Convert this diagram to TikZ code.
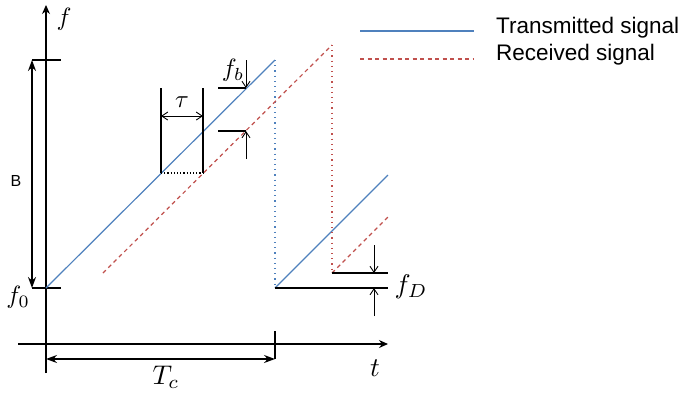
\documentclass[tikz,border=0pt]{standalone}
\usepackage{fontspec}
\usepackage{tikz}
\usetikzlibrary{arrows.meta,positioning}
\newfontfamily\legendfont{Liberation Sans}
\definecolor{txblue}{HTML}{4F81BD}
\definecolor{rxred}{HTML}{C0504D}
\tikzset{
  axis/.style={line width=1.3pt,-{Stealth[length=9pt,width=8pt]}},
  rule/.style={line width=1.3pt},
  dimfill/.style={line width=1.3pt,{Stealth[length=11pt,width=8pt]}-{Stealth[length=11pt,width=8pt]}},
  dimopen/.style={line width=0.9pt,-{Straight Barb[length=6pt,width=8pt]}},
  dimopenboth/.style={line width=0.9pt,{Straight Barb[length=6pt,width=8pt]}-{Straight Barb[length=6pt,width=8pt]}},
  sigtx/.style={draw=txblue,line width=1.2pt},
  sigrx/.style={draw=rxred,line width=1.2pt,dash pattern=on 4pt off 3.5pt},
  guidetx/.style={draw=txblue,line width=1.2pt,dash pattern=on 1.2pt off 4pt},
  guiderx/.style={draw=rxred,line width=1.2pt,dash pattern=on 1.2pt off 4pt},
  mathlbl/.style={font=\normalsize,scale=2.5,inner sep=0pt},
  mathbig/.style={font=\normalsize,scale=2.7,inner sep=0pt},
  legendlbl/.style={font=\legendfont\fontsize{22.5}{26}\selectfont,inner sep=0pt,anchor=west}
}
\begin{document}
\begin{tikzpicture}[x=1pt,y=-1pt]
\useasboundingbox (0,0) rectangle (680,392);
% axes
\coordinate (fbot) at (46,373);
\coordinate (ftop) at (46,5);
\coordinate (tleft) at (18,344);
\coordinate (tright) at (388,344);
\draw[axis] (fbot) -- (ftop);
\draw[axis] (tleft) -- (tright);
\node[mathlbl] (flbl) at (64,19) {$f$};
\node[mathbig] (tlbl) at (375,368) {$t$};
% bandwidth
\coordinate (bw1) at (32,60);
\coordinate (bw2) at (61,60);
\coordinate (bz1) at (32,288);
\coordinate (bz2) at (61,288);
\draw[rule] (bw1) -- (bw2);
\draw[rule] (bz1) -- (bz2);
\draw[dimfill] (bz1) -- (bw1);
\node[font=\legendfont\fontsize{16}{18}\selectfont,inner sep=0pt] (blbl) at (16,181) {B};
\node[mathlbl] (f0lbl) at (18,297) {$f_0$};
% chirps
\coordinate (tx1a) at (46,288);
\coordinate (tx1b) at (275,60);
\coordinate (tx2a) at (275,288);
\coordinate (tx2b) at (388,175);
\coordinate (rx1a) at (103,273);
\coordinate (rx1b) at (332,45);
\coordinate (rx2a) at (332,273);
\coordinate (rx2b) at (388,217);
\draw[sigtx] (tx1a) -- (tx1b);
\draw[guidetx] (tx1b) -- (tx2a);
\draw[sigtx] (tx2a) -- (tx2b);
\draw[sigrx] (rx1a) -- (rx1b);
\draw[guiderx] (rx1b) -- (rx2a);
\draw[sigrx] (rx2a) -- (rx2b);
% doppler shift
\coordinate (dend1) at (388,288);
\coordinate (dend2) at (388,273);
\coordinate (dtop) at (374,245);
\coordinate (dtopend) at (374,273);
\coordinate (dbot) at (374,316);
\coordinate (dbotend) at (374,288);
\draw[rule] (tx2a) -- (dend1);
\draw[rule] (rx2a) -- (dend2);
\draw[dimopen] (dtop) -- (dtopend);
\draw[dimopen] (dbot) -- (dbotend);
\node[mathbig] (fdlbl) at (411,287) {$f_D$};
% delay
\coordinate (tau1a) at (161,88);
\coordinate (tau1b) at (161,173);
\coordinate (tau2a) at (203,88);
\coordinate (tau2b) at (203,173);
\coordinate (taul) at (161,116);
\coordinate (taur) at (203,116);
\draw[rule] (tau1a) -- (tau1b);
\draw[rule] (tau2a) -- (tau2b);
\draw[line width=1.2pt,dash pattern=on 1.2pt off 2pt] (tau1b) -- (tau2b);
\draw[dimopenboth] (taul) -- (taur);
\node[mathlbl] (taulbl) at (182,102) {$\tau$};
% beat frequency
\coordinate (fb1) at (218,88);
\coordinate (fb2) at (246,88);
\coordinate (fb3) at (218,131);
\coordinate (fb4) at (246,131);
\coordinate (fbtop) at (246,60);
\coordinate (fbbot) at (246,159);
\draw[rule] (fb1) -- (fb2);
\draw[rule] (fb3) -- (fb4);
\draw[dimopen] (fbtop) -- (fb2);
\draw[dimopen] (fbbot) -- (fb4);
\node[mathlbl] (fblbl) at (233,70) {$f_b$};
% chirp period
\coordinate (tc1) at (46,359);
\coordinate (tc2) at (275,359);
\coordinate (tctick) at (275,331);
\draw[rule] (tctick) -- (tc2);
\draw[dimfill] (tc1) -- (tc2);
\node[mathbig] (tclbl) at (166,377) {$T_c$};
% legend
\coordinate (lg1) at (360,31);
\coordinate (lg2) at (474,31);
\coordinate (lg3) at (360,59);
\coordinate (lg4) at (474,59);
\draw[sigtx] (lg1) -- (lg2);
\draw[sigrx] (lg3) -- (lg4);
\node[legendlbl] (txlbl) at (496,28) {Transmitted signal};
\node[legendlbl] (rxlbl) at (496,55) {Received signal};
\end{tikzpicture}
\end{document}
